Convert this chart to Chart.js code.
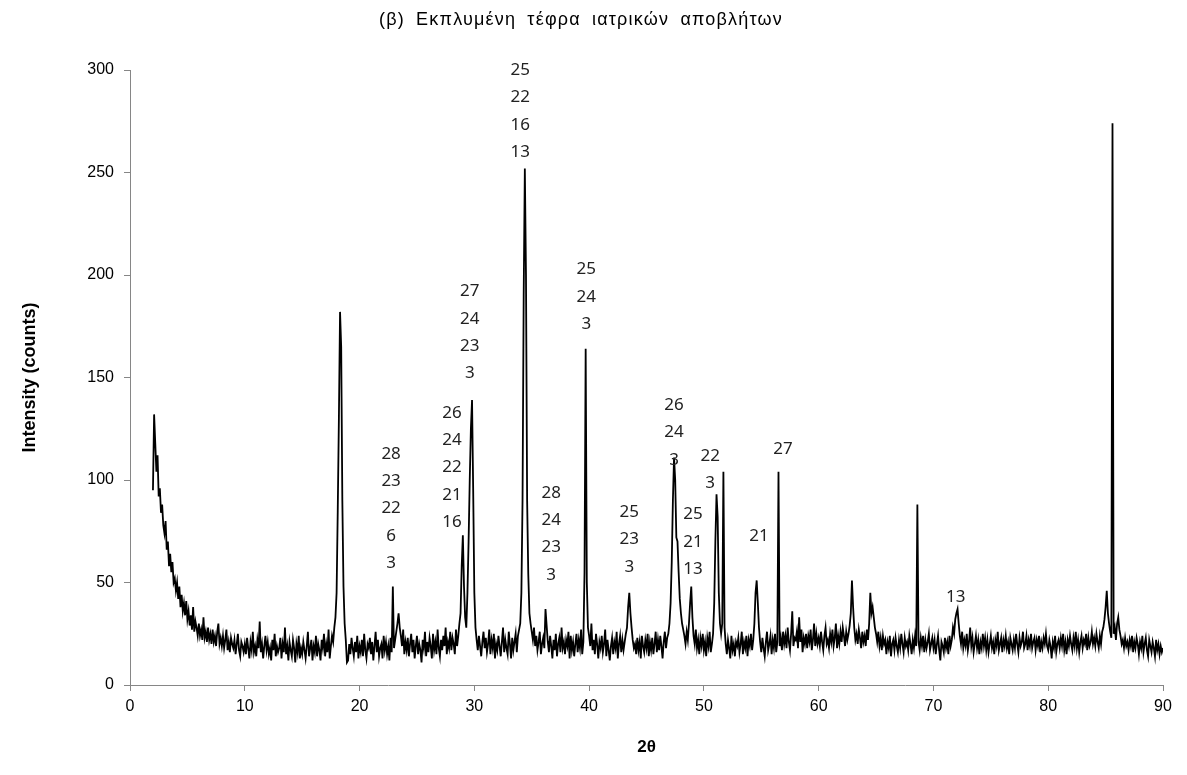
<!DOCTYPE html>
<html>
<head>
<meta charset="utf-8">
<script src="https://cdn.jsdelivr.net/npm/chart.js@4.4.1/dist/chart.umd.min.js"></script>
<style>
  html, body { margin: 0; padding: 0; background: #fff; }
  #wrap { width: 1187px; height: 775px; }
</style>
</head>
<body>
<div id="wrap"><canvas id="xrdChart"></canvas></div>
<script>
const chartTitle = '(β) Εκπλυμένη τέφρα ιατρικών αποβλήτων';
const xTitle = '2θ';
const yTitle = 'Intensity (counts)';
const xTicks = [0, 10, 20, 30, 40, 50, 60, 70, 80, 90];
const yTicks = [0, 50, 100, 150, 200, 250, 300];

const scanStep = 0.1;
const scanStarts = [2, 10, 20, 30, 40, 50, 60, 70, 80];

const scan02 = [
  95, 132, 118, 104, 112, 92, 96, 84, 88, 78,
  74, 80, 66, 70, 58, 64, 55, 60, 50, 52,
  46, 50, 42, 48, 38, 44, 36, 40, 34, 41,
  32, 36, 29, 34, 27, 38, 26, 31, 28, 24,
  30, 24, 27, 22, 33, 23, 26, 21, 28, 22,
  25, 20, 27, 21, 24, 19, 26, 30, 20, 23,
  19, 24, 18, 22, 27, 17, 21, 16, 23, 20,
  18, 22, 15, 20, 25, 17, 14, 21, 19, 16
];
const scan10 = [
  20, 15, 23, 18, 13, 21, 17, 26, 16, 19,
  14, 22, 18, 31, 16, 20, 13, 19, 24, 17,
  21, 15, 18, 12, 22, 17, 25, 14, 19, 16,
  18, 23, 13, 20, 16, 28, 15, 19, 12, 21,
  17, 14, 22, 18, 11, 20, 16, 24, 13, 18,
  15, 21, 17, 13, 19, 26, 14, 18, 22, 12,
  19, 16, 24, 14, 20, 17, 12, 22, 18, 25,
  14, 20, 16, 27, 13, 19, 24, 21, 28, 33,
  45, 85, 130, 182, 165, 90, 48, 30, 22, 11,
  12, 20, 15, 23, 18, 14, 21, 16, 24, 13
];
const scan20 = [
  19, 16, 22, 14, 25, 17, 13, 20, 18, 23,
  15, 21, 12, 19, 26, 16, 22, 14, 18, 20,
  13, 24, 17, 21, 15, 19, 12, 23, 16, 48,
  18, 22, 26, 30, 35, 28, 24, 19, 27, 15,
  21, 17, 23, 14, 20, 25, 16, 22, 13, 19,
  24, 15, 20, 17, 11, 22, 18, 26, 14, 21,
  16, 23, 19, 13, 25, 17, 21, 15, 27, 18,
  14, 22, 17, 24, 19, 28, 15, 21, 18, 26,
  17, 23, 20, 15, 27, 19, 24, 30, 35, 58,
  73, 48, 33, 28, 45, 70, 100, 125, 139, 95
];
const scan30 = [
  45, 28, 22, 17, 24, 19, 14, 21, 26, 18,
  23, 16, 20, 27, 15, 22, 18, 25, 13, 20,
  17, 24, 19, 14, 21, 28, 16, 22, 18, 15,
  26, 20, 13, 23, 17, 21, 25, 16, 24, 27,
  30, 45, 90, 190, 252, 200, 90, 54, 35, 30,
  26, 22, 28, 19, 24, 17, 21, 26, 15, 20,
  23, 18, 37, 29, 21, 16, 24, 19, 13, 22,
  17, 25, 14, 20, 23, 16, 28, 18, 21, 15,
  22, 19, 26, 13, 24, 17, 21, 14, 20, 25,
  16, 22, 18, 27, 15, 21, 55, 164, 50, 28
];
const scan40 = [
  24, 19, 30, 17, 22, 15, 25, 20, 13, 21,
  18, 24, 16, 20, 27, 14, 22, 17, 12, 19,
  23, 15, 21, 18, 26, 13, 20, 24, 16, 22,
  17, 21, 25, 28, 38, 45, 35, 28, 22, 18,
  20, 15, 23, 17, 21, 13, 24, 19, 16, 22,
  18, 25, 14, 21, 17, 23, 15, 20, 26, 16,
  22, 17, 24, 19, 13, 21, 26, 18, 23, 25,
  30, 40, 60, 90, 111, 100, 72, 70, 55, 42,
  35, 30, 27, 24, 20, 26, 22, 30, 40, 48,
  33, 24, 20, 27, 18, 22, 15, 23, 19, 25
];
const scan50 = [
  17, 21, 14, 23, 19, 26, 16, 20, 25, 40,
  70, 93, 82, 45, 30, 25, 30, 104, 28, 20,
  15, 22, 18, 13, 24, 17, 20, 14, 21, 19,
  23, 16, 20, 26, 15, 21, 18, 24, 14, 22,
  19, 25, 17, 22, 30, 45, 51, 40, 28, 21,
  16, 23, 18, 14, 21, 26, 17, 20, 24, 15,
  22, 18, 25, 16, 21, 104, 19, 23, 17, 26,
  20, 24, 18, 28, 21, 17, 25, 36, 19, 23,
  22, 26, 18, 33, 21, 27, 16, 23, 20, 25,
  18, 24, 21, 27, 17, 22, 30, 19, 25, 20
];
const scan60 = [
  23, 19, 26, 21, 17, 24, 28, 20, 22, 18,
  25, 21, 27, 19, 23, 30, 18, 24, 20, 26,
  21, 28, 24, 19, 26, 22, 25, 29, 35, 51,
  38, 28, 22, 25, 20, 27, 23, 18, 26, 21,
  24, 19, 27, 22, 30, 45, 35, 38, 33, 28,
  25, 21, 26, 19, 23, 17, 24, 20, 22, 15,
  21, 18, 24, 14, 20, 22, 17, 23, 19, 16,
  22, 18, 25, 20, 16, 23, 19, 21, 17, 24,
  20, 15, 22, 18, 24, 19, 88, 21, 17, 23,
  19, 24, 16, 22, 18, 21, 25, 17, 20, 23
];
const scan70 = [
  18, 22, 15, 20, 24, 17, 12, 21, 19, 16,
  23, 18, 21, 15, 24, 19, 22, 28, 25, 32,
  35, 37, 30, 24, 20, 26, 18, 22, 19, 25,
  17, 21, 28, 19, 23, 16, 20, 24, 18, 22,
  15, 21, 18, 25, 19, 23, 17, 22, 16, 20,
  24, 18, 21, 15, 22, 19, 26, 17, 20, 23,
  16, 22, 19, 24, 18, 21, 15, 23, 20, 17,
  22, 18, 25, 20, 16, 23, 19, 21, 26, 18,
  20, 24, 17, 22, 19, 25, 18, 21, 23, 17,
  22, 19, 24, 16, 21, 18, 23, 20, 25, 19
];
const scan80 = [
  17, 22, 19, 13, 21, 18, 24, 16, 20, 22,
  18, 23, 19, 25, 17, 21, 15, 22, 19, 24,
  20, 17, 23, 19, 26, 18, 22, 16, 21, 24,
  18, 22, 20, 25, 17, 23, 19, 21, 26, 20,
  23, 19, 25, 21, 18, 24, 20, 26, 28, 32,
  38, 46, 35, 30, 26, 23, 274, 25, 28, 22,
  30, 33, 27, 24, 20, 22, 18, 23, 19, 21,
  17, 22, 19, 24, 16, 21, 18, 23, 20, 15,
  21, 18, 24, 16, 20, 23, 17, 14, 22, 19,
  16, 21, 18, 14, 22, 17, 20, 15, 19, 16,
  18
];

// peak phase labels: angle, counts at the lowest line, lines top to bottom
const labelAngles = [22.75, 28.05, 29.6, 34.0, 36.7, 39.75, 43.5, 47.4, 49.05, 50.55, 54.8, 56.9, 71.95];
const labelCounts = [59.5, 79.5, 152, 260, 53.7, 176, 57.6, 109.8, 56.6, 98.5, 72.7, 115, 43];
const labelLines = [
  ['28', '23', '22', '6', '3'],
  ['26', '24', '22', '21', '16'],
  ['27', '24', '23', '3'],
  ['25', '22', '16', '13'],
  ['28', '24', '23', '3'],
  ['25', '24', '3'],
  ['25', '23', '3'],
  ['26', '24', '3'],
  ['25', '21', '13'],
  ['22', '3'],
  ['21'],
  ['27'],
  ['13']
];

const segments = [scan02, scan10, scan20, scan30, scan40, scan50, scan60, scan70, scan80];
const points = [];
segments.forEach((seg, s) => {
  seg.forEach((v, i) => {
    points.push({ x: +(scanStarts[s] + i * scanStep).toFixed(2), y: v });
  });
});

const peakLabels = {
  id: 'peakLabels',
  afterDatasetsDraw(chart) {
    const ctx = chart.ctx;
    const xs = chart.scales.x, ys = chart.scales.y;
    ctx.save();
    ctx.font = '17px "Noto Sans", "DejaVu Sans", sans-serif';
    ctx.fillStyle = '#222';
    ctx.textAlign = 'center';
    ctx.textBaseline = 'middle';
    labelAngles.forEach((a, k) => {
      const px = xs.getPixelForValue(a);
      const py = ys.getPixelForValue(labelCounts[k]);
      const lines = labelLines[k];
      lines.forEach((t, j) => {
        ctx.fillText(t, px, py - (lines.length - 1 - j) * 27.3);
      });
    });

    // title, drawn here for its wider spacing
    ctx.font = '18px "Liberation Sans", Arial, sans-serif';
    ctx.fillStyle = '#000';
    ctx.letterSpacing = '1.2px';
    ctx.wordSpacing = '5px';
    ctx.fillText(chartTitle, 581, 20);
    ctx.restore();
  }
};

const axisGray = '#868686';
const tickFont = { family: '"Liberation Sans Narrow", "Liberation Sans", sans-serif', size: 16 };

new Chart(document.getElementById('xrdChart'), {
  type: 'line',
  data: {
    datasets: [{
      data: points,
      borderColor: '#000',
      borderWidth: 1.8,
      pointRadius: 0,
      tension: 0,
      fill: false
    }]
  },
  options: {
    responsive: true,
    maintainAspectRatio: false,
    animation: false,
    layout: { padding: { left: 10, right: 24, top: 70, bottom: 10 } },
    plugins: {
      legend: { display: false },
      tooltip: { enabled: false },
      title: { display: false }
    },
    scales: {
      x: {
        type: 'linear',
        min: 0,
        max: 90,
        afterBuildTicks: (axis) => { axis.ticks = xTicks.map(v => ({ value: v })); },
        afterFit: (axis) => { axis.height = 80; },
        ticks: { color: '#000', font: tickFont, padding: 6, maxRotation: 0 },
        grid: { drawOnChartArea: false, drawTicks: true, tickLength: 6, color: axisGray },
        border: { color: axisGray },
        title: {
          display: true,
          text: xTitle,
          color: '#000',
          font: { family: '"Liberation Sans", Arial, sans-serif', size: 17, weight: 'bold' },
          padding: { top: 0, bottom: 7 }
        }
      },
      y: {
        min: 0,
        max: 300,
        afterBuildTicks: (axis) => { axis.ticks = yTicks.map(v => ({ value: v })); },
        afterFit: (axis) => { axis.width = 120; },
        ticks: { color: '#000', font: tickFont, padding: 10 },
        grid: { drawOnChartArea: false, drawTicks: true, tickLength: 6, color: axisGray },
        border: { color: axisGray },
        title: {
          display: true,
          text: yTitle,
          color: '#000',
          font: { family: '"Liberation Sans", Arial, sans-serif', size: 18, weight: 'bold' },
          padding: { top: 9, bottom: 0 }
        }
      }
    }
  },
  plugins: [peakLabels]
});
</script>
</body>
</html>
